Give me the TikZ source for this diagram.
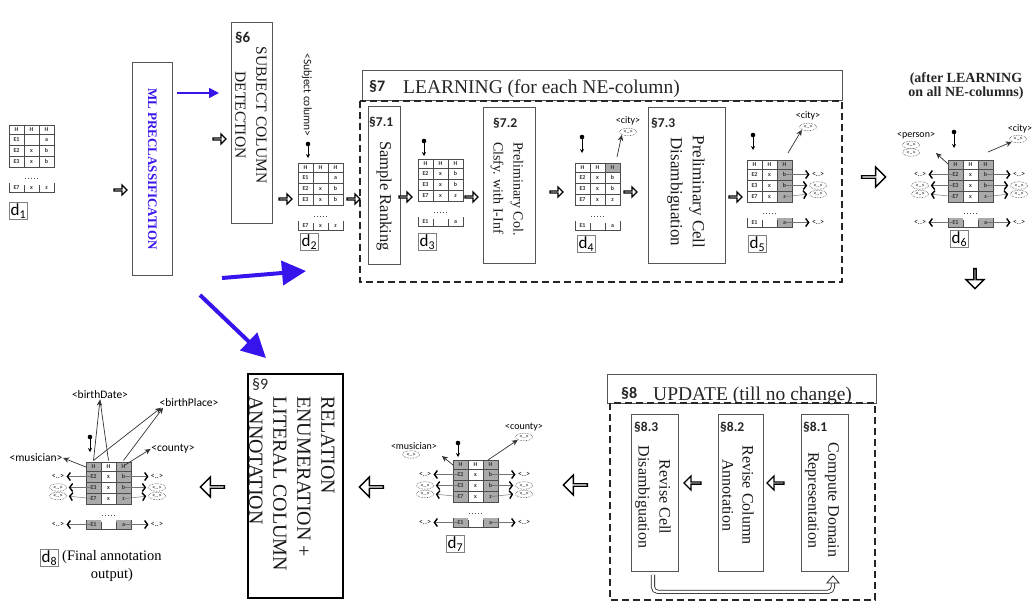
\documentclass[tikz,border=0pt]{standalone}
\usepackage{fontspec}
\setmainfont{Liberation Serif}
\newfontfamily\calfont{Carlito}
\usetikzlibrary{arrows.meta,shapes.arrows,shapes.geometric}
\definecolor{mlblue}{RGB}{55,20,235}
\definecolor{cellgray}{RGB}{170,170,170}
\definecolor{boxgray}{RGB}{85,85,85}
\def\rowsA{0/H/H/H,1/E1/{}/a,2/E2/x/b,3/E3/x/b,4/E7/x/z}
\def\rowsB{0/H/H/H,1/E2/x/b,2/E3/x/b,3/E7/x/z,4/E1/{}/a}
\def\shadeAll{0/1,0/3,1/1,1/3,2/1,2/3,3/1,3/3,4/1,4/3}
\tikzset{
  box/.style={draw=boxgray,line width=0.9pt,inner sep=0pt,anchor=north west},
  dashbox/.style={draw=black!85,line width=1.4pt,dash pattern=on 7pt off 4pt},
  sec/.style={font=\calfont\bfseries\fontsize{13.5}{13.5}\selectfont,inner sep=0pt,anchor=west,text=black!85},
  rtext/.style={rotate=-90,align=center,inner sep=0pt,text=black!90},
  gline/.style={draw=black!70,line width=0.5pt},
  cell/.style={font=\calfont\bfseries\fontsize{6}{6}\selectfont,inner sep=0pt,text=black!80},
  dlab/.style={draw=black!50,line width=0.6pt,font=\calfont\fontsize{17}{17}\selectfont,inner sep=1.3pt,anchor=north west},
  tinyl/.style={font=\calfont\fontsize{8}{8}\selectfont,inner sep=0.3pt},
  dell/.style={ellipse,draw=black!70,densely dotted,line width=0.6pt,font=\calfont\fontsize{6}{6}\selectfont,inner sep=0pt,minimum width=17pt,minimum height=7.5pt},
  cls/.style={font=\calfont\fontsize{10}{10}\selectfont,inner sep=0.5pt},
  sarr/.style={draw=black!55,line width=0.5pt,shorten >=2pt,-{Straight Barb[length=3pt,width=8pt,line width=1.4pt,color=black]}},
  carr/.style={draw=black!80,line width=0.7pt,-{Stealth[length=6pt,width=5.5pt]}},
  varr/.style={draw=black,line width=0.7pt,-{Stealth[length=4pt,width=4pt]}},
  harr/.style={single arrow,draw=black,line width=1.3pt,fill=white,inner sep=0pt,single arrow head extend=2.5pt,minimum height=13pt,minimum width=10pt},
  harrm/.style={harr,single arrow head extend=3.5pt,minimum height=17pt,minimum width=14pt},
  harrl/.style={harr,line width=1.4pt,single arrow head extend=5pt,minimum height=24pt,minimum width=20pt},
  bthin/.style={draw=mlblue,line width=1.6pt,-{Triangle[length=10pt,width=10pt]}},
  bthick/.style={draw=mlblue,line width=4pt,-{Triangle[length=24pt,width=24pt]}},
  dbl/.style={draw=black!85,double=white,double distance=2.5pt,line width=0.8pt},
}
\newcommand\mtab[5]{%
\begin{scope}[shift={(#2,#3)}]
\foreach \ri/\ci in #5 {\ifnum\ci>0
 \pgfmathsetmacro\ya{\ri==0 ? 0 : (\ri==4 ? 58 : 9+11*(\ri-1))}%
 \pgfmathsetmacro\yb{\ri==0 ? 9 : (\ri==4 ? 67 : 9+11*\ri)}%
 \fill[cellgray] ({15*(\ci-1)},\ya) rectangle ({15*\ci},\yb);
\fi}
\draw[gline] (0,0) rectangle (45,42);
\draw[gline] (0,9) -- (45,9) (0,20) -- (45,20) (0,31) -- (45,31) (15,0) -- (15,42) (30,0) -- (30,42);
\draw[gline] (0,58) -- (0,67) -- (45,67) -- (45,58) (15,60) -- (15,67) (30,60) -- (30,67);
\draw[black!70,line width=1pt,dotted] (16,53) -- (30,53);
\node[minimum width=45pt,minimum height=42pt,anchor=north west,inner sep=0pt] (#1) at (0,0) {};
\foreach \ri/\p/\q/\s in #4 {%
 \pgfmathsetmacro\yc{\ri==0 ? 4.6 : (\ri==4 ? 63 : 3.6+11*\ri)}%
 \node[cell] (#1-\ri-1) at (7.5,\yc) {\p};
 \node[cell] (#1-\ri-2) at (22.5,\yc) {\q};
 \node[cell] (#1-\ri-3) at (37.5,\yc) {\s};
}
\end{scope}}
\newcommand\sidearr[4]{%
\begin{scope}[shift={(#2,#3)}]
\node[tinyl] (#1r1) at (71,14.5) {<..>};
\node[dell] (#1r2) at (71,25.5) {<..>};
\node[dell] (#1r3) at (71,34) {<..>};
\node[tinyl] (#1r4) at (71,62.5) {<..>};
\draw[sarr] (39,14.5) -- (#1r1.west);
\draw[sarr] (39,25.5) -- (#1r2.west);
\draw[sarr] (39,36.5) -- (#1r3.west);
\draw[sarr] (39,62.5) -- (#1r4.west);
\ifnum#4=1
\node[tinyl] (#1l1) at (-28,14.5) {<..>};
\node[dell] (#1l2) at (-28,25.5) {<..>};
\node[dell] (#1l3) at (-28,34) {<..>};
\node[tinyl] (#1l4) at (-28,62.5) {<..>};
\draw[sarr] (6,14.5) -- (#1l1.east);
\draw[sarr] (6,25.5) -- (#1l2.east);
\draw[sarr] (6,36.5) -- (#1l3.east);
\draw[sarr] (6,62.5) -- (#1l4.east);
\fi
\end{scope}}
\newcommand\vdot[4]{% name, x, y top, y tip
\fill (#2,#3) circle (2.3pt) coordinate (#1a);
\coordinate (#1b) at (#2,#4);
\draw[varr] (#1a) -- (#1b);}
\begin{document}
\begin{tikzpicture}[x=1pt,y=-1pt]
\useasboundingbox (0,0) rectangle (1032,603);
\fill[white] (0,0) rectangle (1032,603);

% ---------- tables ----------
\mtab{d1}{9}{125}{\rowsA}{{0/0}}
\mtab{d2}{298}{163}{\rowsA}{{0/0}}
\mtab{d3}{418}{159}{\rowsB}{{0/0}}
\mtab{d4}{575}{163}{\rowsB}{{0/3}}
\mtab{d5}{747}{160}{\rowsB}{{0/3,1/3,2/3,3/3,4/3}}
\mtab{d6}{948}{160}{\rowsB}{\shadeAll}
\mtab{d7}{453}{460}{\rowsB}{\shadeAll}
\mtab{d8}{86}{462}{\rowsB}{\shadeAll}
\sidearr{d5}{747}{160}{0}
\sidearr{d6}{948}{160}{1}
\sidearr{d7}{453}{460}{1}
\sidearr{d8}{86}{462}{1}

% table labels
\node[dlab] (l1) at (9,202) {d\textsubscript{1}};
\node[dlab] (l2) at (300,233) {d\textsubscript{2}};
\node[dlab] (l3) at (418,233) {d\textsubscript{3}};
\node[dlab] (l4) at (577,235) {d\textsubscript{4}};
\node[dlab] (l5) at (748,235) {d\textsubscript{5}};
\node[dlab] (l6) at (950,230) {d\textsubscript{6}};
\node[dlab] (l7) at (446,535) {d\textsubscript{7}};
\node[dlab] (l8) at (40,549) {d\textsubscript{8}};
\node[anchor=north west,align=center,inner sep=0pt,font=\fontsize{14.5}{18}\selectfont] (fin) at (62,550) {(Final annotation\\output)};

% dots with arrows
\vdot{v2}{308}{144}{158}
\vdot{v3}{424}{141}{156}
\vdot{v4}{582}{137}{153}
\vdot{v5}{753}{135}{150}
\vdot{v6}{954}{132}{148}
\vdot{v7}{458}{443}{457}
\vdot{v8}{90}{437}{452}

% ---------- boxes ----------
\node[box,minimum width=40pt,minimum height=213pt] (ml) at (132,62) {};
\node[rtext,text=mlblue,font=\bfseries\fontsize{13}{13}\selectfont] (mlt) at (ml.center) {ML PRECLASSIFICATION};
\node[box,minimum width=41pt,minimum height=201pt] (scd) at (231,22) {};
\node[sec,font=\calfont\bfseries\fontsize{15}{15}\selectfont] (s6) at (235,38) {§6};
\node[rtext,font=\fontsize{15.5}{21}\selectfont] (scdt) at (251,115) {SUBJECT COLUMN\\DETECTION};
\node[rtext,font=\calfont\fontsize{11.5}{11.5}\selectfont] (subj) at (307,95) {<Subject column>};

% section 7
\node[box,minimum width=480pt,minimum height=30pt] (t7) at (362,70) {};
\node[sec,font=\calfont\bfseries\fontsize{16}{16}\selectfont] (s7) at (369,86) {§7};
\node[anchor=base west,inner sep=0pt,font=\fontsize{19.5}{19.5}\selectfont,text=black!85] (t7t) at (403,93) {LEARNING (for each NE-column)};
\draw[dashbox] (360,101) rectangle (842,282);
\node[box,minimum width=32pt,minimum height=158pt] (s71) at (368,106) {};
\node[sec] (s71l) at (369,122) {§7.1};
\node[rtext,font=\fontsize{16.5}{16.5}\selectfont] (s71t) at (384,196) {Sample Ranking};
\node[box,minimum width=52pt,minimum height=156pt] (s72) at (483,107) {};
\node[sec] (s72l) at (493,123) {§7.2};
\node[rtext,align=left,anchor=west,font=\fontsize{14}{20}\selectfont] (s72t) at (507,142) {Preliminary Col.\\Clsfy. with I-Inf};
\node[box,minimum width=77pt,minimum height=156pt] (s73) at (648,107) {};
\node[sec] (s73l) at (651,123) {§7.3};
\node[rtext,font=\fontsize{17}{22}\selectfont] (s73t) at (686,192) {Preliminary Cell\\Disambiguation};

% class labels top
\node[cls] (c4) at (628,121) {<city>};
\node[dell] (c4e) at (628,132) {<..>};
\draw[carr] (617,157) -- (c4e.south west);
\node[cls] (c5) at (808,116) {<city>};
\node[dell] (c5e) at (808,127) {<..>};
\draw[carr] (788,153) -- (c5e.south west);
\node[cls] (c6p) at (916,136) {<person>};
\node[dell] (c6pe1) at (911,145) {<..>};
\node[dell] (c6pe2) at (911,152.5) {<..>};
\draw[carr] (948,164) -- (936,153);
\node[cls] (c6c) at (1020,129) {<city>};
\node[dell] (c6ce) at (1018,139) {<..>};
\draw[carr] (988,152) -- (c6ce.south west);

% after learning
\node[align=center,inner sep=0pt,font=\bfseries\fontsize{14}{14}\selectfont,text=black!85] (aft) at (966,86) {(after LEARNING\\on all NE-columns)};

% hollow arrows
\node[harr] (h1) at (120,190) {};
\node[harr] (h2) at (219,139) {};
\node[harr] (h3) at (285,199) {};
\node[harr] (h4) at (353,199) {};
\node[harr] (h5) at (405,197) {};
\node[harr] (h6) at (471,197) {};
\node[harr] (h7) at (556,192) {};
\node[harr] (h8) at (630,192) {};
\node[harr] (h9) at (735,197) {};
\node[harrl] (h12) at (873,177) {};
\node[harrl,shape border rotate=270,minimum height=20pt,minimum width=18pt] (h13) at (975,278) {};
\node[harrm,shape border rotate=180] (h10) at (693,483) {};
\node[harrm,shape border rotate=180] (h11) at (776,483) {};
\node[harrl,shape border rotate=180] (h14) at (576,485) {};
\node[harrl,shape border rotate=180] (h15) at (372,487) {};
\node[harrl,shape border rotate=180] (h16) at (213,487) {};

% blue arrows
\coordinate (b1s) at (177,93);
\coordinate (b1e) at (219,93);
\draw[bthin] (b1s) -- (b1e);
\coordinate (b2s) at (222,278);
\coordinate (b2e) at (306,271);
\draw[bthick] (b2s) -- (b2e);
\coordinate (b3s) at (200,295);
\coordinate (b3e) at (266,358);
\draw[bthick] (b3s) -- (b3e);

% section 8
\node[box,minimum width=269pt,minimum height=29pt] (t8) at (607,374) {};
\node[sec,font=\calfont\bfseries\fontsize{16}{16}\selectfont] (s8) at (621,393) {§8};
\node[anchor=base west,inner sep=0pt,font=\fontsize{19.5}{19.5}\selectfont,text=black!85] (t8t) at (653,400) {UPDATE (till no change)};
\draw[dashbox] (610,403) rectangle (875,600);
\node[box,minimum width=47pt,minimum height=157pt] (s83) at (631,414) {};
\node[sec] (s83l) at (634,427) {§8.3};
\node[rtext,font=\fontsize{16}{21}\selectfont] (s83t) at (653,497) {Revise Cell\\Disambiguation};
\node[box,minimum width=45pt,minimum height=157pt] (s82) at (718,414) {};
\node[sec] (s82l) at (720,427) {§8.2};
\node[rtext,font=\fontsize{16}{20}\selectfont] (s82t) at (738,495) {Revise Column\\Annotation};
\node[box,minimum width=47pt,minimum height=157pt] (s81) at (801,414) {};
\node[sec] (s81l) at (803,427) {§8.1};
\node[rtext,font=\fontsize{16}{20}\selectfont] (s81t) at (822,500) {Compute Domain\\Representation};
\draw[dbl,rounded corners=5pt] ([xshift=-2pt,yshift=-3pt]s83.south) -- ++(0,17) -| ([xshift=8pt,yshift=-11pt]s81.south);
\draw[black!85,line width=0.8pt,fill=white] ([xshift=2pt,yshift=-11pt]s81.south) -- ([xshift=8pt,yshift=-4pt]s81.south) -- ([xshift=14pt,yshift=-11pt]s81.south) -- cycle;

% section 9
\node[box,draw=black,line width=2pt,minimum width=95pt,minimum height=224pt] (s9) at (247,373) {};
\node[sec,font=\calfont\fontsize{16}{16}\selectfont] (s9l) at (252,385) {§9};
\node[rtext,align=left,anchor=west,font=\fontsize{20}{24}\selectfont] (s9t) at (292,396) {RELATION\\ENUMERATION +\\LITERAL COLUMN\\ANNOTATION};

% d7 class labels
\node[cls] (c7m) at (414,446) {<musician>};
\node[dell] (c7me) at (411,454.5) {<..>};
\draw[carr] (453,465) -- (442,456);
\node[cls] (c7c) at (524,427) {<county>};
\node[dell] (c7ce) at (524,437) {<..>};
\draw[carr] (488,460) -- (c7ce.south west);

% d8 class labels
\node[cls,font=\calfont\fontsize{11.5}{11.5}\selectfont] (c8m) at (36,458) {<musician>};
\draw[carr] (86,467) -- (c8m.east);
\node[cls,font=\calfont\fontsize{11.5}{11.5}\selectfont] (c8c) at (173,449) {<county>};
\draw[carr] (125,465) -- (c8c.west);
\node[cls,font=\calfont\fontsize{11.5}{11.5}\selectfont] (c8d) at (100,395) {<birthDate>};
\node[cls,font=\calfont\fontsize{11.5}{11.5}\selectfont] (c8p) at (189,403) {<birthPlace>};
\draw[carr] ([yshift=4pt]d8-0-1.north) -- (c8d.south);
\draw[draw=black!80,line width=0.7pt] ([yshift=4pt]d8-0-2.north) -- (c8d.south);
\draw[carr] ([yshift=4pt]d8-0-1.north) -- ([xshift=-28pt]c8p.south);
\draw[carr] ([yshift=4pt]d8-0-3.north) -- ([xshift=-26pt]c8p.south);
\end{tikzpicture}
\end{document}
